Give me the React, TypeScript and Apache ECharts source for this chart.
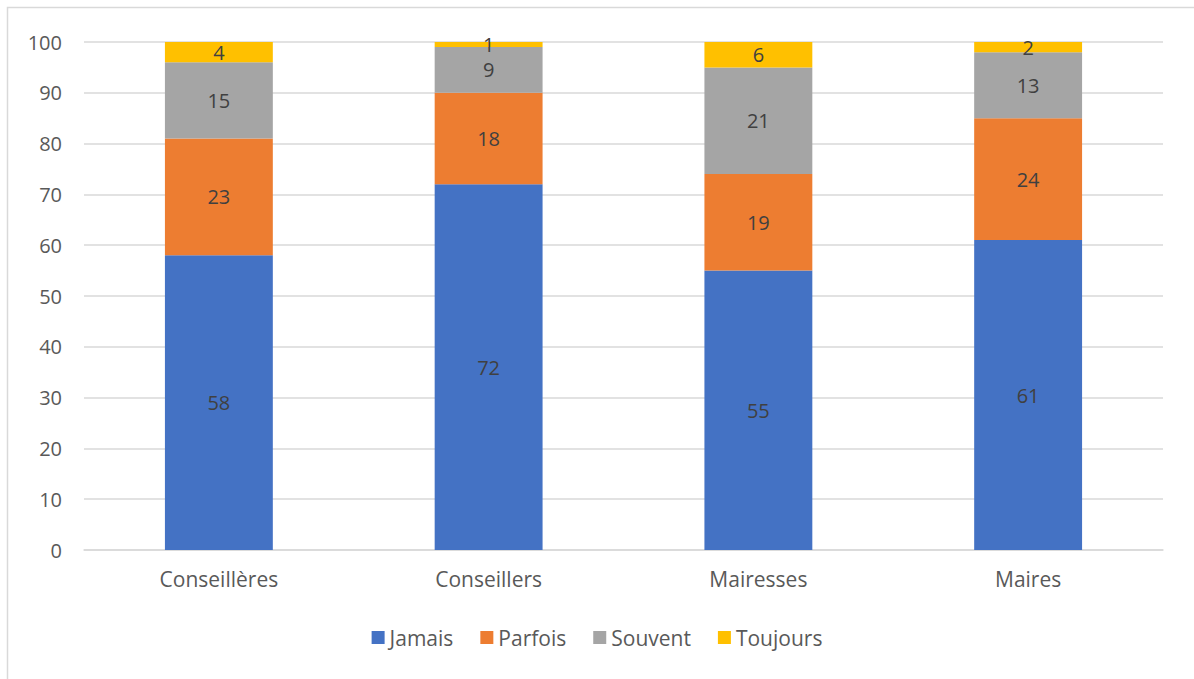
import React, { useEffect, useRef } from "react";
import * as echarts from "echarts";

const categories = ["Conseillères", "Conseillers", "Mairesses", "Maires"];
const jamais = [58, 72, 55, 61];
const parfois = [23, 18, 19, 24];
const souvent = [15, 9, 21, 13];
const toujours = [4, 1, 6, 2];

const seriesDefs = [
  { name: "Jamais", data: jamais, color: "#4472C4" },
  { name: "Parfois", data: parfois, color: "#ED7D31" },
  { name: "Souvent", data: souvent, color: "#A5A5A5" },
  { name: "Toujours", data: toujours, color: "#FFC000" },
];

const FONT = "'Open Sans', 'Noto Sans', sans-serif";

export default function App() {
  const ref = useRef<HTMLDivElement>(null);

  useEffect(() => {
    document.body.style.margin = "0";
    const chart = echarts.init(ref.current!, undefined, { renderer: "svg" });
    chart.setOption({
      animation: false,
      backgroundColor: "#ffffff",
      textStyle: { fontFamily: FONT },
      grid: { left: 84, right: 31, top: 42, bottom: 129, containLabel: false },
      graphic: [
        {
          type: "rect",
          shape: { x: 7.5, y: 7.5, width: 1250, height: 720 },
          style: { fill: "none", stroke: "#d9d9d9", lineWidth: 1.5 },
          silent: true,
          z: -1,
        },
      ],
      legend: {
        bottom: 26,
        left: "center",
        itemWidth: 13,
        itemHeight: 13,
        itemGap: 27,
        icon: "rect",
        textStyle: { fontFamily: FONT, fontSize: 21, color: "#595959" },
        data: seriesDefs.map((s) => s.name),
      },
      xAxis: {
        type: "category",
        data: categories,
        axisLine: { lineStyle: { color: "#d9d9d9", width: 1.5 } },
        axisTick: { show: false },
        axisLabel: { fontFamily: FONT, fontSize: 21, color: "#595959", margin: 18 },
      },
      yAxis: {
        type: "value",
        min: 0,
        max: 100,
        interval: 10,
        axisLine: { show: false },
        axisTick: { show: false },
        splitLine: { lineStyle: { color: "#d9d9d9", width: 1.5 } },
        axisLabel: { fontFamily: FONT, fontSize: 20, color: "#595959", margin: 22 },
      },
      series: seriesDefs.map((s) => ({
        name: s.name,
        type: "bar",
        stack: "total",
        barWidth: "40%",
        data: s.data,
        itemStyle: { color: s.color },
        label: {
          show: true,
          position: "inside",
          fontFamily: FONT,
          fontSize: 20,
          color: "#404040",
        },
      })),
    });
    return () => chart.dispose();
  }, []);

  return <div ref={ref} style={{ width: 1194, height: 679 }} />;
}
